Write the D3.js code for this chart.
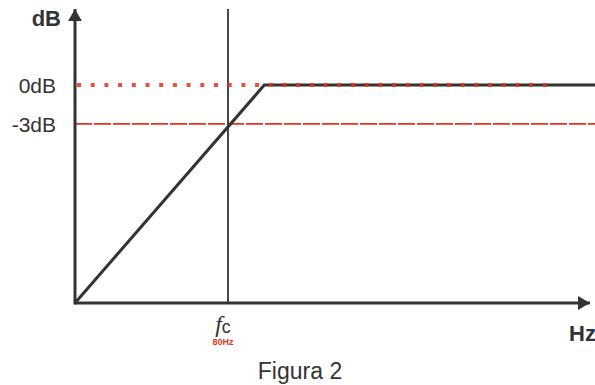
<!DOCTYPE html>
<html><head><meta charset="utf-8">
<script src="https://cdn.jsdelivr.net/npm/d3@7"></script>
<style>body{margin:0;background:#fff}svg{display:block}</style>
</head><body>
<script>
// Data
const yTickLabels = ["0dB", "-3dB"];
const yTickValues = [0, -3];
const cutoffFreq = 80;           // fc (Hz)
const cutoffLabel = "80Hz";
const responseFreq = [0, 99, 300];      // Hz (schematic)
const responseDb = [-16.8, 0, 0];       // dB
const zeroLineEnd = 248;                // dotted 0dB reference extends to this Hz
const captionText = "Figura 2";

const W = 595, H = 385;
const svg = d3.select("body").append("svg").attr("width", W).attr("height", H);

const x = d3.scaleLinear().domain([0, 300]).range([75, 648.75]);
const y = d3.scaleLinear().domain([-16.8, 0]).range([303, 85]);

const axisColor = "#333";
const red = "#e2341d";

const defs = svg.append("defs");
defs.append("marker").attr("id","arr").attr("viewBox","0 0 10 10").attr("refX",10).attr("refY",5)
  .attr("markerWidth",4).attr("markerHeight",4.6).attr("orient","auto").attr("markerUnits","strokeWidth")
  .attr("preserveAspectRatio","none")
  .append("path").attr("d","M0,0 L10,5 L0,10 Z").attr("fill",axisColor);

// -3dB dashed line
svg.append("line").attr("x1", x(0)).attr("x2", W).attr("y1", y(-3)).attr("y2", y(-3))
  .attr("stroke", red).attr("stroke-width", 1.8).attr("stroke-dasharray", "17,2");

// fc vertical line
svg.append("line").attr("x1", x(cutoffFreq)).attr("x2", x(cutoffFreq)).attr("y1", 9).attr("y2", y(-16.8))
  .attr("stroke", axisColor).attr("stroke-width", 1.8);

// response line
const pts = responseFreq.map((f,i)=>[x(f), y(responseDb[i])]);
svg.append("path").attr("d", d3.line()(pts)).attr("fill","none")
  .attr("stroke", axisColor).attr("stroke-width", 3);

// 0dB dotted line
svg.append("line").attr("x1", x(0)+2).attr("x2", x(zeroLineEnd)).attr("y1", y(0)).attr("y2", y(0))
  .attr("stroke", red).attr("stroke-opacity", 0.85).attr("stroke-width", 4).attr("stroke-dasharray", "4,9.7");

// axes
svg.append("line").attr("x1", x(0)).attr("x2", 590).attr("y1", y(-16.8)).attr("y2", y(-16.8))
  .attr("stroke", axisColor).attr("stroke-width", 3).attr("marker-end","url(#arr)");
svg.append("line").attr("x1", x(0)).attr("x2", x(0)).attr("y1", y(-16.8)+1.5).attr("y2", 9)
  .attr("stroke", axisColor).attr("stroke-width", 3).attr("marker-end","url(#arr)");

const font = "Arial, 'Liberation Sans', sans-serif";
// y tick labels
svg.selectAll("text.yt").data(yTickValues).enter().append("text")
  .attr("x", 56).attr("y", d=>y(d)+8).attr("text-anchor","end")
  .attr("font-family", font).attr("font-size", 21).attr("fill","#333")
  .text((d,i)=>yTickLabels[i]);

// axis titles
svg.append("text").attr("x", 61).attr("y", 26).attr("text-anchor","end")
  .attr("font-family", font).attr("font-size", 22).attr("font-weight","bold").attr("fill","#333").text("dB");
svg.append("text").attr("x", 596).attr("y", 341).attr("text-anchor","end")
  .attr("font-family", font).attr("font-size", 22).attr("font-weight","bold").attr("fill","#333").text("Hz");

// fc label
const fc = svg.append("text").attr("x", x(cutoffFreq)-5).attr("y", 332).attr("text-anchor","middle")
  .attr("font-family", font).attr("fill","#333");
fc.append("tspan").attr("font-style","italic").attr("font-family","'Times New Roman','Liberation Serif',serif").attr("font-size",24).text("f");
fc.append("tspan").attr("font-size",18).attr("dy",1).text("c");
svg.append("text").attr("x", x(cutoffFreq)-5).attr("y", 345).attr("text-anchor","middle")
  .attr("font-family", font).attr("font-size", 9).attr("font-weight","bold").attr("fill", red).text(cutoffLabel);

// caption
svg.append("text").attr("x", 300).attr("y", 379).attr("text-anchor","middle")
  .attr("font-family", font).attr("font-size", 23).attr("fill","#333").text(captionText);
</script>
</body></html>
